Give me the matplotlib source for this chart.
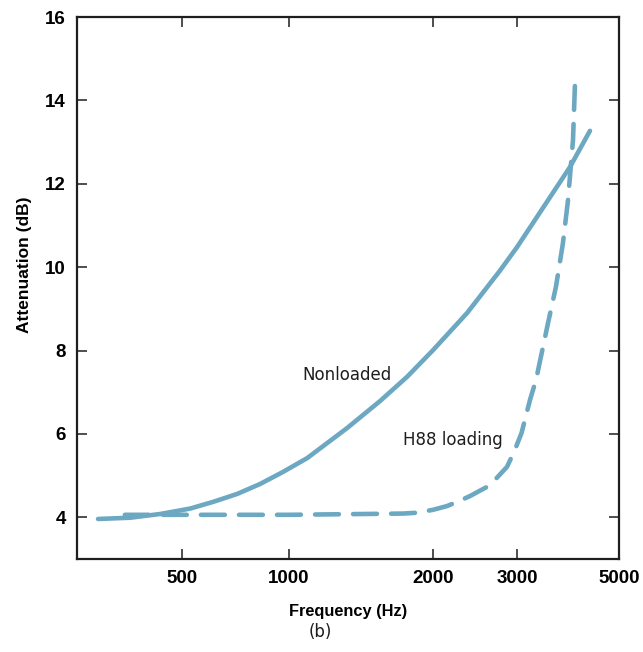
import numpy as np
import matplotlib
matplotlib.use("Agg")
import matplotlib.pyplot as plt

# values (frequency in Hz, attenuation in dB)
nonloaded_f = [290, 357, 434, 527, 611, 714, 829, 962, 1091, 1322, 1550, 1765, 2000,
               2357, 2760, 3000, 3910, 4323]
nonloaded_db = [3.96, 3.99, 4.08, 4.21, 4.37, 4.56, 4.80, 5.09, 5.42, 6.14, 6.79, 7.37,
                8.01, 8.90, 9.91, 10.48, 12.40, 13.27]

h88_f = [345, 1000, 1731, 1852, 2000, 2140, 2278, 2391, 2595, 2723, 2858, 2971, 3000,
         3068, 3202, 3299, 3504, 3646, 3776, 3873, 3971, 4011]
h88_db = [4.06, 4.06, 4.09, 4.11, 4.18, 4.27, 4.40, 4.51, 4.73, 4.95, 5.21, 5.62, 5.75,
          6.02, 6.82, 7.29, 8.66, 9.53, 10.58, 11.61, 13.05, 14.42]

x_ticks = [500, 1000, 2000, 3000, 5000]
x_ticklabels = ["500", "1000", "2000", "3000", "5000"]
y_ticks = [4, 6, 8, 10, 12, 14, 16]

# the printed frequency axis is not a clean log axis: spacing per anchor
anchor_hz = np.array([100, 250, 500, 1000, 2000, 3000, 5000, 10000])
anchor_pos = np.array([-66, 75, 182, 289, 433, 517, 619, 840])
anchor_log = np.log10(anchor_hz)


def forward(x):
    x = np.clip(np.asarray(x, dtype=float), 1e-3, None)
    return np.interp(np.log10(x), anchor_log, anchor_pos)


def inverse(p):
    return 10 ** np.interp(np.asarray(p, dtype=float), anchor_pos, anchor_log)


color = "#6ca8c2"
ink = "#1e1e1e"
tick_font = dict(family="Liberation Sans", weight="bold", size=13.5)

fig = plt.figure(figsize=(6.43, 6.52), dpi=100)
ax = fig.add_axes([77 / 643, 93 / 652, 542 / 643, 542 / 652])
ax.set_xscale("function", functions=(forward, inverse))

ax.plot(nonloaded_f, nonloaded_db, color=color, lw=3.3, solid_capstyle="round",
        solid_joinstyle="round")
ax.plot(h88_f, h88_db, color=color, lw=3.3, linestyle=(0, (5.2, 3.1)),
        dash_capstyle="round", dash_joinstyle="round")

ax.set_xlim(253, 5000)
ax.set_ylim(3, 16)

ax.set_xticks(x_ticks)
ax.set_xticklabels(x_ticklabels, fontdict=tick_font)
ax.xaxis.set_minor_locator(matplotlib.ticker.NullLocator())
ax.set_yticks(y_ticks)
ax.set_yticklabels([str(v) for v in y_ticks], fontdict=tick_font)

ax.tick_params(direction="in", top=True, right=True, length=7, width=1.1, pad=8,
               color=ink)
for s in ax.spines.values():
    s.set_linewidth(1.6)
    s.set_color(ink)

ax.set_xlabel("Frequency (Hz)", fontfamily="Liberation Sans", fontweight="bold",
              fontsize=11.8, labelpad=12)
ax.set_ylabel("Attenuation (dB)", fontfamily="Liberation Sans", fontweight="bold",
              fontsize=12.5)
ax.yaxis.set_label_coords(-0.083, 0.542)

ax.text(1322, 7.42, "Nonloaded", fontsize=12, ha="center", va="center", color=ink)
ax.text(1730, 5.86, "H88 loading", fontsize=12, ha="left", va="center", color=ink)

fig.text(320 / 643, 1 - 632 / 652, "(b)", fontsize=12, ha="center", va="center",
         color=ink)

fig.savefig("out.png", dpi=100)
